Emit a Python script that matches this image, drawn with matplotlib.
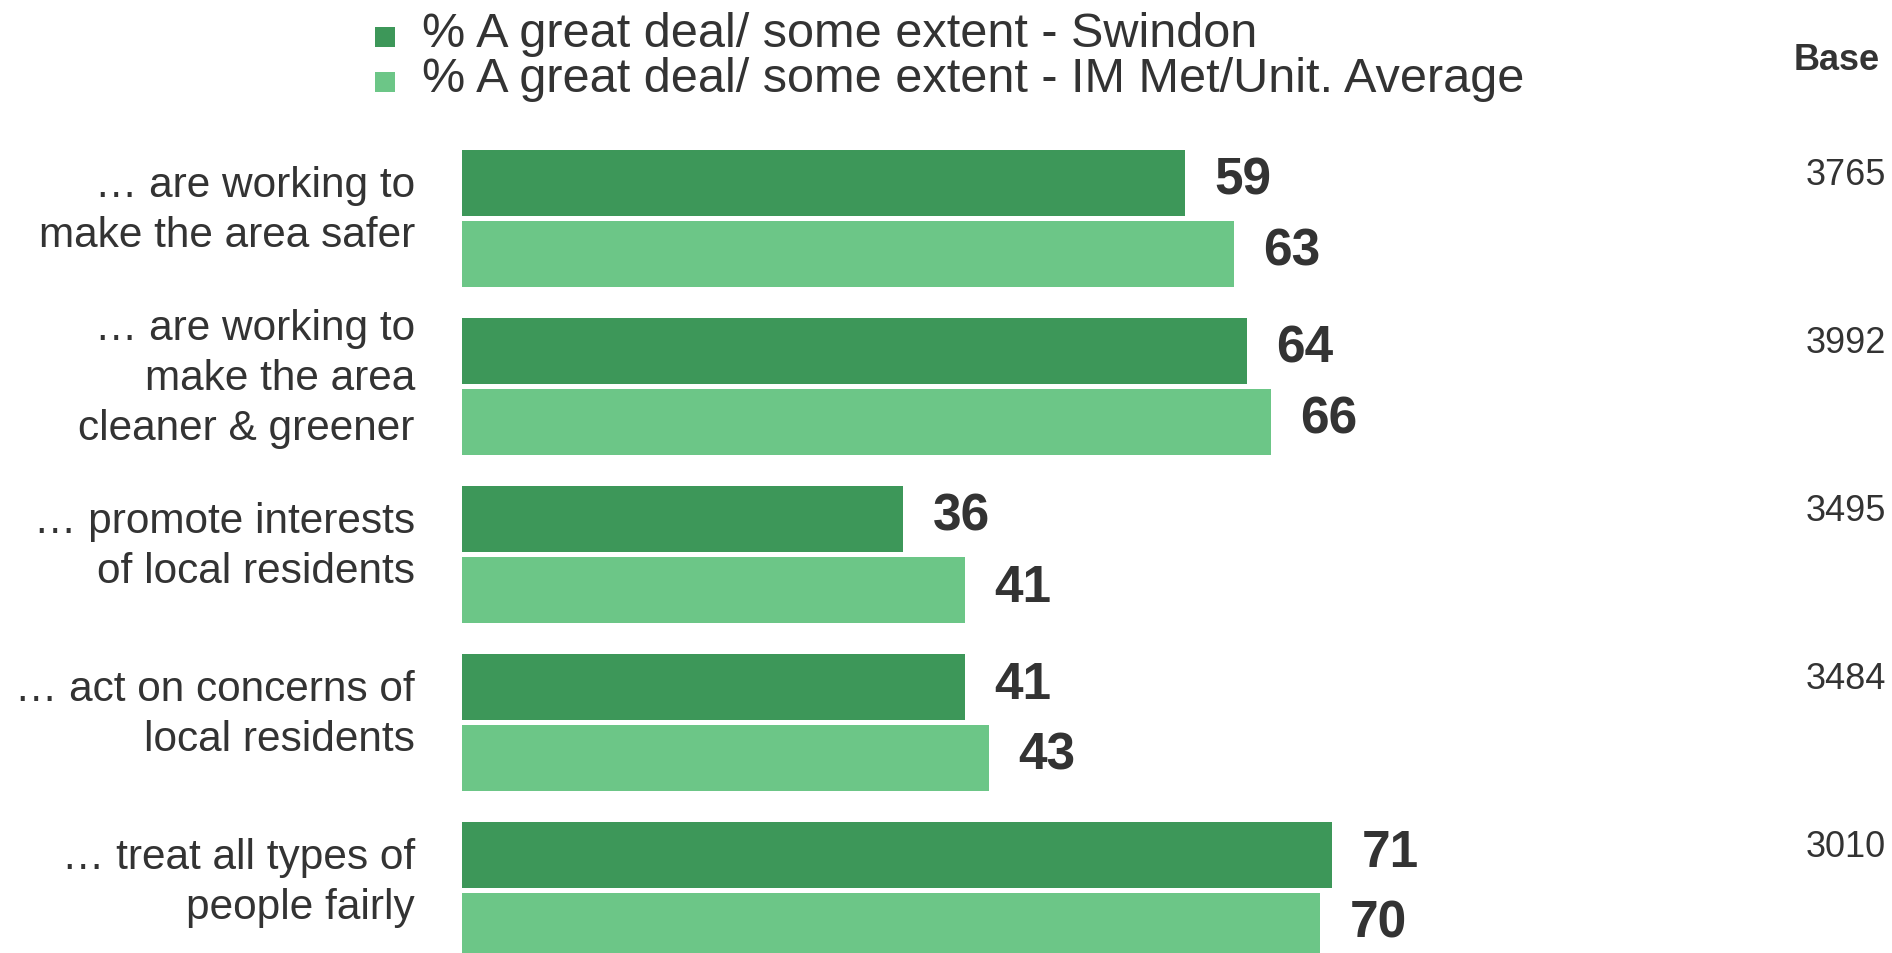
import matplotlib
matplotlib.use("Agg")
import matplotlib.pyplot as plt
import matplotlib.transforms as mtransforms
from matplotlib.patches import Rectangle

plt.rcParams['font.family'] = ['Liberation Sans', 'DejaVu Sans']

categories = [
    "… are working to\nmake the area safer",
    "… are working to\nmake the area\ncleaner & greener",
    "… promote interests\nof local residents",
    "… act on concerns of\nlocal residents",
    "… treat all types of\npeople fairly",
]
swindon = [59, 64, 36, 41, 71]
average = [63, 66, 41, 43, 70]
bases = ["3765", "3992", "3495", "3484", "3010"]
series_names = [
    "% A great deal/ some extent - Swindon",
    "% A great deal/ some extent - IM Met/Unit. Average",
]

DARK = "#3D9759"
LIGHT = "#6CC687"
TEXT = "#333333"

W, H, DPI = 1892, 954, 100
fig = plt.figure(figsize=(W / DPI, H / DPI), dpi=DPI)
ax = fig.add_axes([462 / W, 0, 1226 / W, 1])
ax.set_xlim(0, 100)
ax.set_ylim(4.372, -1.3065)
ax.axis("off")

bar_h = 0.393
off = (bar_h + 0.03) / 2
ys = list(range(len(categories)))

b1 = ax.barh([y - off for y in ys], swindon, height=bar_h, color=DARK)
b2 = ax.barh([y + off for y in ys], average, height=bar_h, color=LIGHT)

# value labels next to each bar
for bars, vals in ((b1, swindon), (b2, average)):
    for rect, v in zip(bars, vals):
        cy = rect.get_y() + rect.get_height() / 2
        ax.annotate(str(v), xy=(v, cy), xytext=(21, 2), textcoords="offset points",
                    ha="left", va="center", fontsize=37, fontweight="bold", color=TEXT)

# category labels to the left of the bars
for y, lab in zip(ys, categories):
    ax.annotate(lab, xy=(0, y), xytext=(-34, 6), textcoords="offset points",
                ha="right", va="center", fontsize=30.5, color=TEXT, linespacing=1.33)

# base sizes in the right-hand column
trans = mtransforms.blended_transform_factory(fig.transFigure, ax.transData)
for y, b in zip(ys, bases):
    ax.text(1886 / W, y - off - 0.05, b, transform=trans, ha="right", va="center",
            fontsize=26, color=TEXT)
fig.text(1880 / W, 1 - 60 / H, "Base", ha="right", va="center", fontsize=26,
         fontweight="bold", color=TEXT)

# legend: colour swatch plus series name
for i, (name, col) in enumerate(zip(series_names, (DARK, LIGHT))):
    top = 28 + 45 * i
    fig.patches.append(Rectangle((375 / W, 1 - (top + 20) / H), 20 / W, 20 / H,
                                 transform=fig.transFigure, facecolor=col,
                                 edgecolor="none"))
    fig.text(422 / W, 1 - (47 + 45 * i) / H, name, ha="left", va="baseline",
             fontsize=35, color=TEXT)

fig.savefig("out.png", dpi=DPI, facecolor="white")
